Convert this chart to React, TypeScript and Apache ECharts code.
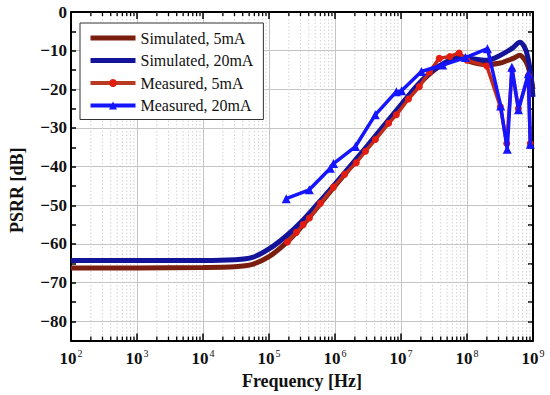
import React, { useEffect, useRef } from "react";
import * as echarts from "echarts";

// ---------- data ----------
const simFreq = [1e2, 1e3, 1e4, 3e4, 5.6e4, 1e5, 1.8e5, 3.2e5, 5.6e5, 1e6, 3.2e6, 1e7, 1.8e7, 3.2e7, 5.6e7, 8e7, 1.1e8, 2e8, 3.2e8, 5e8, 6.3e8, 7.4e8, 8.3e8, 9.3e8, 1e9];
const sim5mA = [-66.2, -66.2, -66.1, -65.9, -65.3, -63.3, -59.8, -55.3, -50.2, -45.0, -34.6, -24.2, -19.0, -15.0, -12.4, -11.8, -12.8, -13.6, -13.2, -12.0, -11.2, -12.2, -13.8, -17.0, -20.0];
const sim20mA = [-64.3, -64.3, -64.3, -64.1, -63.5, -61.3, -58.0, -54.0, -49.4, -44.5, -34.3, -24.0, -18.8, -14.8, -12.4, -11.6, -12.0, -12.5, -11.2, -9.2, -7.8, -9.0, -11.5, -16.5, -22.0];

const meas5Freq = [1.9e5, 2.6e5, 3.3e5, 4.1e5, 6.0e5, 9.5e5, 1.4e6, 2.1e6, 2.9e6, 4.1e6, 6.5e6, 8.5e6, 1.3e7, 1.9e7, 2.7e7, 3.8e7, 5.5e7, 7.6e7, 1.0e8, 2.0e8, 3.2e8, 4.0e8, 4.8e8, 6.0e8, 8.5e8, 9.1e8];
const meas5mA = [-59.5, -57.0, -55.0, -53.3, -49.5, -45.3, -42.0, -39.0, -36.0, -33.0, -28.8, -26.6, -22.5, -19.3, -15.5, -12.0, -11.5, -10.6, -12.5, -14.0, -24.5, -34.0, -15.0, -25.0, -16.5, -34.0];

const meas20Freq = [1.82e5, 4.07e5, 8.5e5, 9.5e5, 2.04e6, 4.07e6, 8.5e6, 1.02e7, 2.04e7, 4.27e7, 9.5e7, 2.04e8, 3.24e8, 4.07e8, 4.79e8, 6.03e8, 8.5e8, 9.1e8];
const meas20mA = [-48.3, -46.0, -40.4, -39.2, -34.8, -26.6, -20.6, -20.4, -15.4, -13.7, -11.8, -9.5, -24.3, -35.5, -14.3, -25.3, -16.0, -34.2];

const decades = [1e2, 1e3, 1e4, 1e5, 1e6, 1e7, 1e8];
const minorMultipliers = [2, 3, 4, 5, 6, 7, 8, 9];
const seriesNames = ["Simulated, 5mA", "Simulated, 20mA", "Measured, 5mA", "Measured, 20mA"];

const FONT = "Liberation Serif";

export default function App() {
  const ref = useRef<HTMLDivElement>(null);

  useEffect(() => {
    if (!ref.current) return;
    const chart = echarts.init(ref.current, null, { renderer: "svg" });

    const pair = (xs: number[], ys: number[]) => xs.map((x, i) => [x, ys[i]]);
    const minorFreqs: number[][] = [];
    decades.forEach((d) => minorMultipliers.forEach((m) => minorFreqs.push([d * m, 0])));

    const yMin = -85;
    const yMax = 0;

    chart.setOption({
      animation: false,
      backgroundColor: "#ffffff",
      grid: { left: 66, right: 17, top: 12, bottom: 54, containLabel: false },
      legend: {
        data: [
          { name: seriesNames[0], itemStyle: { color: "rgba(0,0,0,0)", borderWidth: 0 }, lineStyle: { width: 5, color: "#7a1f10" } },
          { name: seriesNames[1], itemStyle: { color: "rgba(0,0,0,0)", borderWidth: 0 }, lineStyle: { width: 5, color: "#14149a" } },
          { name: seriesNames[2], lineStyle: { width: 4, color: "#b83a22" } },
          { name: seriesNames[3], lineStyle: { width: 4, color: "#1515ff" } },
        ],
        orient: "vertical",
        left: 80,
        top: 23,
        itemWidth: 45,
        itemHeight: 10,
        itemGap: 6.5,
        padding: [7, 10, 6, 8],
        backgroundColor: "#ffffff",
        borderColor: "#333333",
        borderWidth: 1,
        textStyle: { fontFamily: FONT, fontSize: 16, color: "#111" },
      },
      xAxis: [
        {
          type: "log",
          logBase: 10,
          min: 1e2,
          max: 1e9,
          name: "Frequency [Hz]",
          nameLocation: "middle",
          nameGap: 23,
          nameTextStyle: { fontFamily: FONT, fontSize: 18, fontWeight: "bold", color: "#111" },
          axisLine: { show: true, onZero: false, lineStyle: { color: "#000", width: 2 } },
          axisTick: { show: true, inside: true, length: 7, lineStyle: { color: "#000", width: 1.5 } },
          minorTick: { show: false },
          splitLine: { show: true, lineStyle: { color: "#c4c4c4", width: 1 } },
          axisLabel: {
            margin: 8,
            formatter: (v: number) => `{b|10}{s|${Math.round(Math.log10(v))}}`,
            rich: {
              b: { fontFamily: FONT, fontSize: 17, fontWeight: "bold", color: "#111" },
              s: { fontFamily: FONT, fontSize: 10, color: "#111", padding: [0, 0, 10, 1] },
            },
          },
        },
        {
          type: "log",
          logBase: 10,
          min: 1e2,
          max: 1e9,
          position: "top",
          axisLine: { show: true, onZero: false, lineStyle: { color: "#000", width: 2 } },
          axisTick: { show: true, inside: true, length: 7, lineStyle: { color: "#000", width: 1.5 } },
          axisLabel: { show: false },
          splitLine: { show: false },
        },
      ],
      yAxis: [
        {
          type: "value",
          min: yMin,
          max: yMax,
          interval: 5,
          name: "PSRR [dB]",
          nameLocation: "middle",
          nameGap: 45,
          nameTextStyle: { fontFamily: FONT, fontSize: 18, fontWeight: "bold", color: "#111", padding: [0, 28, 0, 0] },
          axisLine: { show: true, onZero: false, lineStyle: { color: "#000", width: 2 } },
          axisTick: { show: true, inside: true, length: 5, lineStyle: { color: "#000", width: 1.5 } },
          splitLine: { show: true, lineStyle: { color: ["rgba(0,0,0,0)", "#c4c4c4"], width: 1 } },
          axisLabel: {
            margin: 4,
            fontFamily: FONT,
            fontSize: 17,
            fontWeight: "bold",
            color: "#111",
            formatter: (v: number) => (Math.round(v) % 10 === 0 ? (v < 0 ? "\u2212" + Math.abs(v) : String(v)) : ""),
          },
        },
        {
          type: "value",
          min: yMin,
          max: yMax,
          interval: 5,
          position: "right",
          axisLine: { show: true, onZero: false, lineStyle: { color: "#000", width: 2 } },
          axisTick: { show: true, inside: true, length: 5, lineStyle: { color: "#000", width: 1.5 } },
          axisLabel: { show: false },
          splitLine: { show: false },
        },
      ],
      series: [
        {
          type: "custom",
          silent: true,
          xAxisIndex: 0,
          yAxisIndex: 0,
          z: 1,
          clip: false,
          data: minorFreqs,
          renderItem: (_params: any, api: any) => {
            const f = api.value(0);
            const t = api.coord([f, yMax]);
            const b = api.coord([f, yMin]);
            return {
              type: "group",
              children: [
                { type: "line", shape: { x1: t[0], y1: t[1], x2: b[0], y2: b[1] }, style: { stroke: "#d2d2d2", lineWidth: 1, lineDash: [1.5, 2] } },
                { type: "line", shape: { x1: b[0], y1: b[1], x2: b[0], y2: b[1] - 4 }, style: { stroke: "#000", lineWidth: 1.3 } },
                { type: "line", shape: { x1: t[0], y1: t[1], x2: t[0], y2: t[1] + 4 }, style: { stroke: "#000", lineWidth: 1.3 } },
              ],
            };
          },
        },
        {
          name: seriesNames[0],
          type: "line",
          data: pair(simFreq, sim5mA),
          smooth: 0.3,
          symbol: "none",
          z: 3,
          lineStyle: { color: "#7a1f10", width: 5 },
          itemStyle: { color: "#7a1f10" },
        },
        {
          name: seriesNames[1],
          type: "line",
          data: pair(simFreq, sim20mA),
          smooth: 0.3,
          symbol: "none",
          z: 3,
          lineStyle: { color: "#14149a", width: 5 },
          itemStyle: { color: "#14149a" },
        },
        {
          name: seriesNames[2],
          type: "line",
          data: pair(meas5Freq, meas5mA),
          symbol: "circle",
          symbolSize: 7,
          z: 4,
          lineStyle: { color: "#c42a18", width: 3.5 },
          itemStyle: { color: "#e31c10" },
        },
        {
          name: seriesNames[3],
          type: "line",
          data: pair(meas20Freq, meas20mA),
          symbol: "triangle",
          symbolSize: 9,
          z: 5,
          lineStyle: { color: "#1515ff", width: 3.5 },
          itemStyle: { color: "#1515ff" },
        },
      ],
    });

    return () => chart.dispose();
  }, []);

  return <div ref={ref} style={{ width: 550, height: 395, position: "absolute", left: 0, top: 0 }} />;
}
